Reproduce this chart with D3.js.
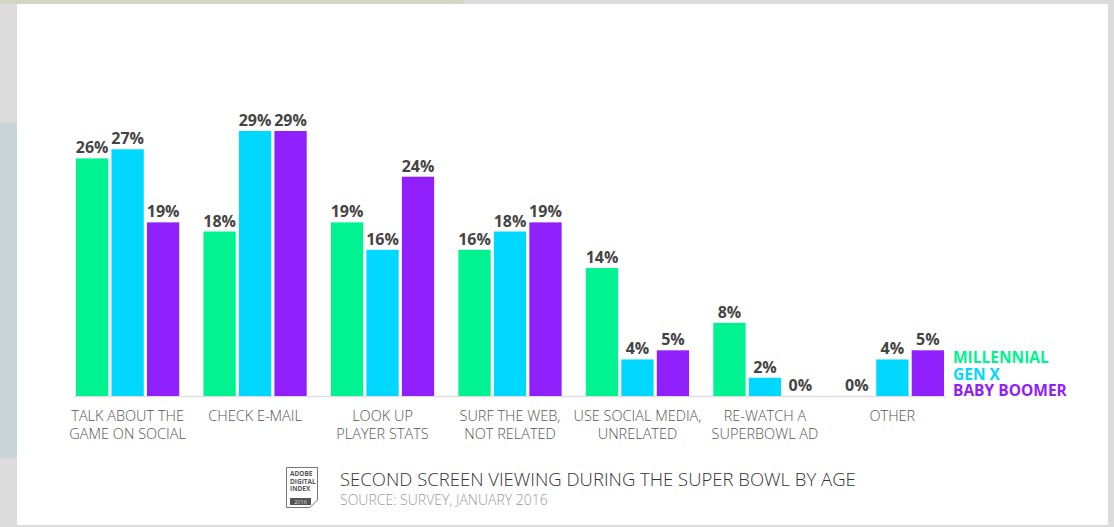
<!DOCTYPE html>
<html>
<head>
<meta charset="utf-8">
<script src="https://cdn.jsdelivr.net/npm/d3@7"></script>
<style>
  body { margin: 0; background: #dcdcdc; }
  svg { display: block; font-family: "Open Sans", "Noto Sans", sans-serif; }
</style>
</head>
<body>
<svg id="chart" width="1114" height="527"></svg>
<script>
const categories = [
  ["TALK ABOUT THE", "GAME ON SOCIAL"],
  ["CHECK E-MAIL"],
  ["LOOK UP", "PLAYER STATS"],
  ["SURF THE WEB,", "NOT RELATED"],
  ["USE SOCIAL MEDIA,", "UNRELATED"],
  ["RE-WATCH A", "SUPERBOWL AD"],
  ["OTHER"]
];
const series = ["MILLENNIAL", "GEN X", "BABY BOOMER"];
const millennial = [26, 18, 19, 16, 14, 8, 0];
const genX = [27, 29, 16, 18, 4, 2, 4];
const babyBoomer = [19, 29, 24, 19, 5, 0, 5];
const colors = ["#00f291", "#00d8ff", "#9020fb"];

const svg = d3.select("#chart"),
  width = +svg.attr("width"),
  height = +svg.attr("height");

// page frame
svg.append("rect").attr("width", width).attr("height", height).attr("fill", "#dcdcdc");
svg.append("rect").attr("x", 0).attr("y", 0).attr("width", 463).attr("height", 4).attr("fill", "#d0d8c4");
svg.append("rect").attr("x", 0).attr("y", 122).attr("width", 17).attr("height", 336).attr("fill", "#c9d4d7");
svg.append("rect").attr("x", 17).attr("y", 4).attr("width", 1091).attr("height", 521).attr("fill", "#ffffff");

const keys = categories.map((d) => d.join(" "));
const rows = keys.map((k, i) => ({
  key: k,
  lines: categories[i],
  values: [millennial[i], genX[i], babyBoomer[i]]
}));

const x0 = d3.scaleBand().domain(keys).range([76, 944]).paddingInner(0.19).paddingOuter(0);
const x1 = d3.scaleBand().domain(series).range([0, x0.bandwidth()]).paddingInner(0.09).paddingOuter(0);
const y = d3.scaleLinear().domain([0, 29]).range([396, 131]);

// baseline
svg.append("line")
  .attr("x1", 74).attr("x2", 946)
  .attr("y1", y(0) + 0.5).attr("y2", y(0) + 0.5)
  .attr("stroke", "#dedede").attr("stroke-width", 1.5);

const groups = svg.append("g")
  .selectAll("g")
  .data(rows)
  .join("g")
  .attr("transform", (d) => `translate(${x0(d.key)},0)`);

groups.selectAll("rect")
  .data((d) => d.values.map((v, j) => ({ s: series[j], v: v, c: colors[j] })))
  .join("rect")
  .attr("x", (d) => x1(d.s))
  .attr("y", (d) => y(d.v))
  .attr("width", x1.bandwidth())
  .attr("height", (d) => y(0) - y(d.v))
  .attr("fill", (d) => d.c);

groups.selectAll("text.val")
  .data((d) => d.values.map((v, j) => ({ s: series[j], v: v })))
  .join("text")
  .attr("class", "val")
  .attr("x", (d) => x1(d.s) + x1.bandwidth() / 2)
  .attr("y", (d) => y(d.v) - 5)
  .attr("text-anchor", "middle")
  .attr("font-size", 16)
  .attr("font-weight", "bold")
  .attr("fill", "#444")
  .text((d) => d.v + "%");

// category labels
groups.append("text")
  .attr("text-anchor", "middle")
  .attr("font-size", 14.5)
  .attr("font-weight", 300)
  .attr("fill", "#555")
  .selectAll("tspan")
  .data((d) => d.lines)
  .join("tspan")
  .attr("x", x0.bandwidth() / 2)
  .attr("y", (d, i) => 421 + i * 18)
  .text((d) => d);

// legend
svg.append("g")
  .selectAll("text")
  .data(series)
  .join("text")
  .attr("x", 953)
  .attr("y", (d, i) => 363 + i * 16.5)
  .attr("font-size", 15.5)
  .attr("font-weight", "bold")
  .attr("fill", (d, i) => colors[i])
  .text((d) => d);

// footer logo
const logo = svg.append("g").attr("transform", "translate(286,467)");
logo.append("path")
  .attr("d", "M0.5,0.5 H31.5 V33 L24,40.5 H0.5 Z")
  .attr("fill", "#fff").attr("stroke", "#777").attr("stroke-width", 1);
logo.append("rect").attr("x", 4).attr("y", 31).attr("width", 21).attr("height", 7).attr("fill", "#555");
logo.selectAll("text.l")
  .data(["ADOBE", "DIGITAL", "INDEX"])
  .join("text")
  .attr("class", "l")
  .attr("x", 4)
  .attr("y", (d, i) => 9 + i * 7.5)
  .attr("font-size", 6.5)
  .attr("font-weight", "bold")
  .attr("fill", "#555")
  .text((d) => d);
logo.append("text")
  .attr("x", 14.5).attr("y", 37)
  .attr("text-anchor", "middle")
  .attr("font-size", 5.5)
  .attr("fill", "#ddd")
  .text("2016");

svg.append("text")
  .attr("x", 340).attr("y", 486)
  .attr("font-size", 18.5)
  .attr("font-weight", 300)
  .attr("fill", "#333")
  .text("SECOND SCREEN VIEWING DURING THE SUPER BOWL BY AGE");
svg.append("text")
  .attr("x", 340).attr("y", 505)
  .attr("font-size", 14)
  .attr("font-weight", 300)
  .attr("fill", "#999")
  .text("SOURCE: SURVEY, JANUARY 2016");
</script>
</body>
</html>
